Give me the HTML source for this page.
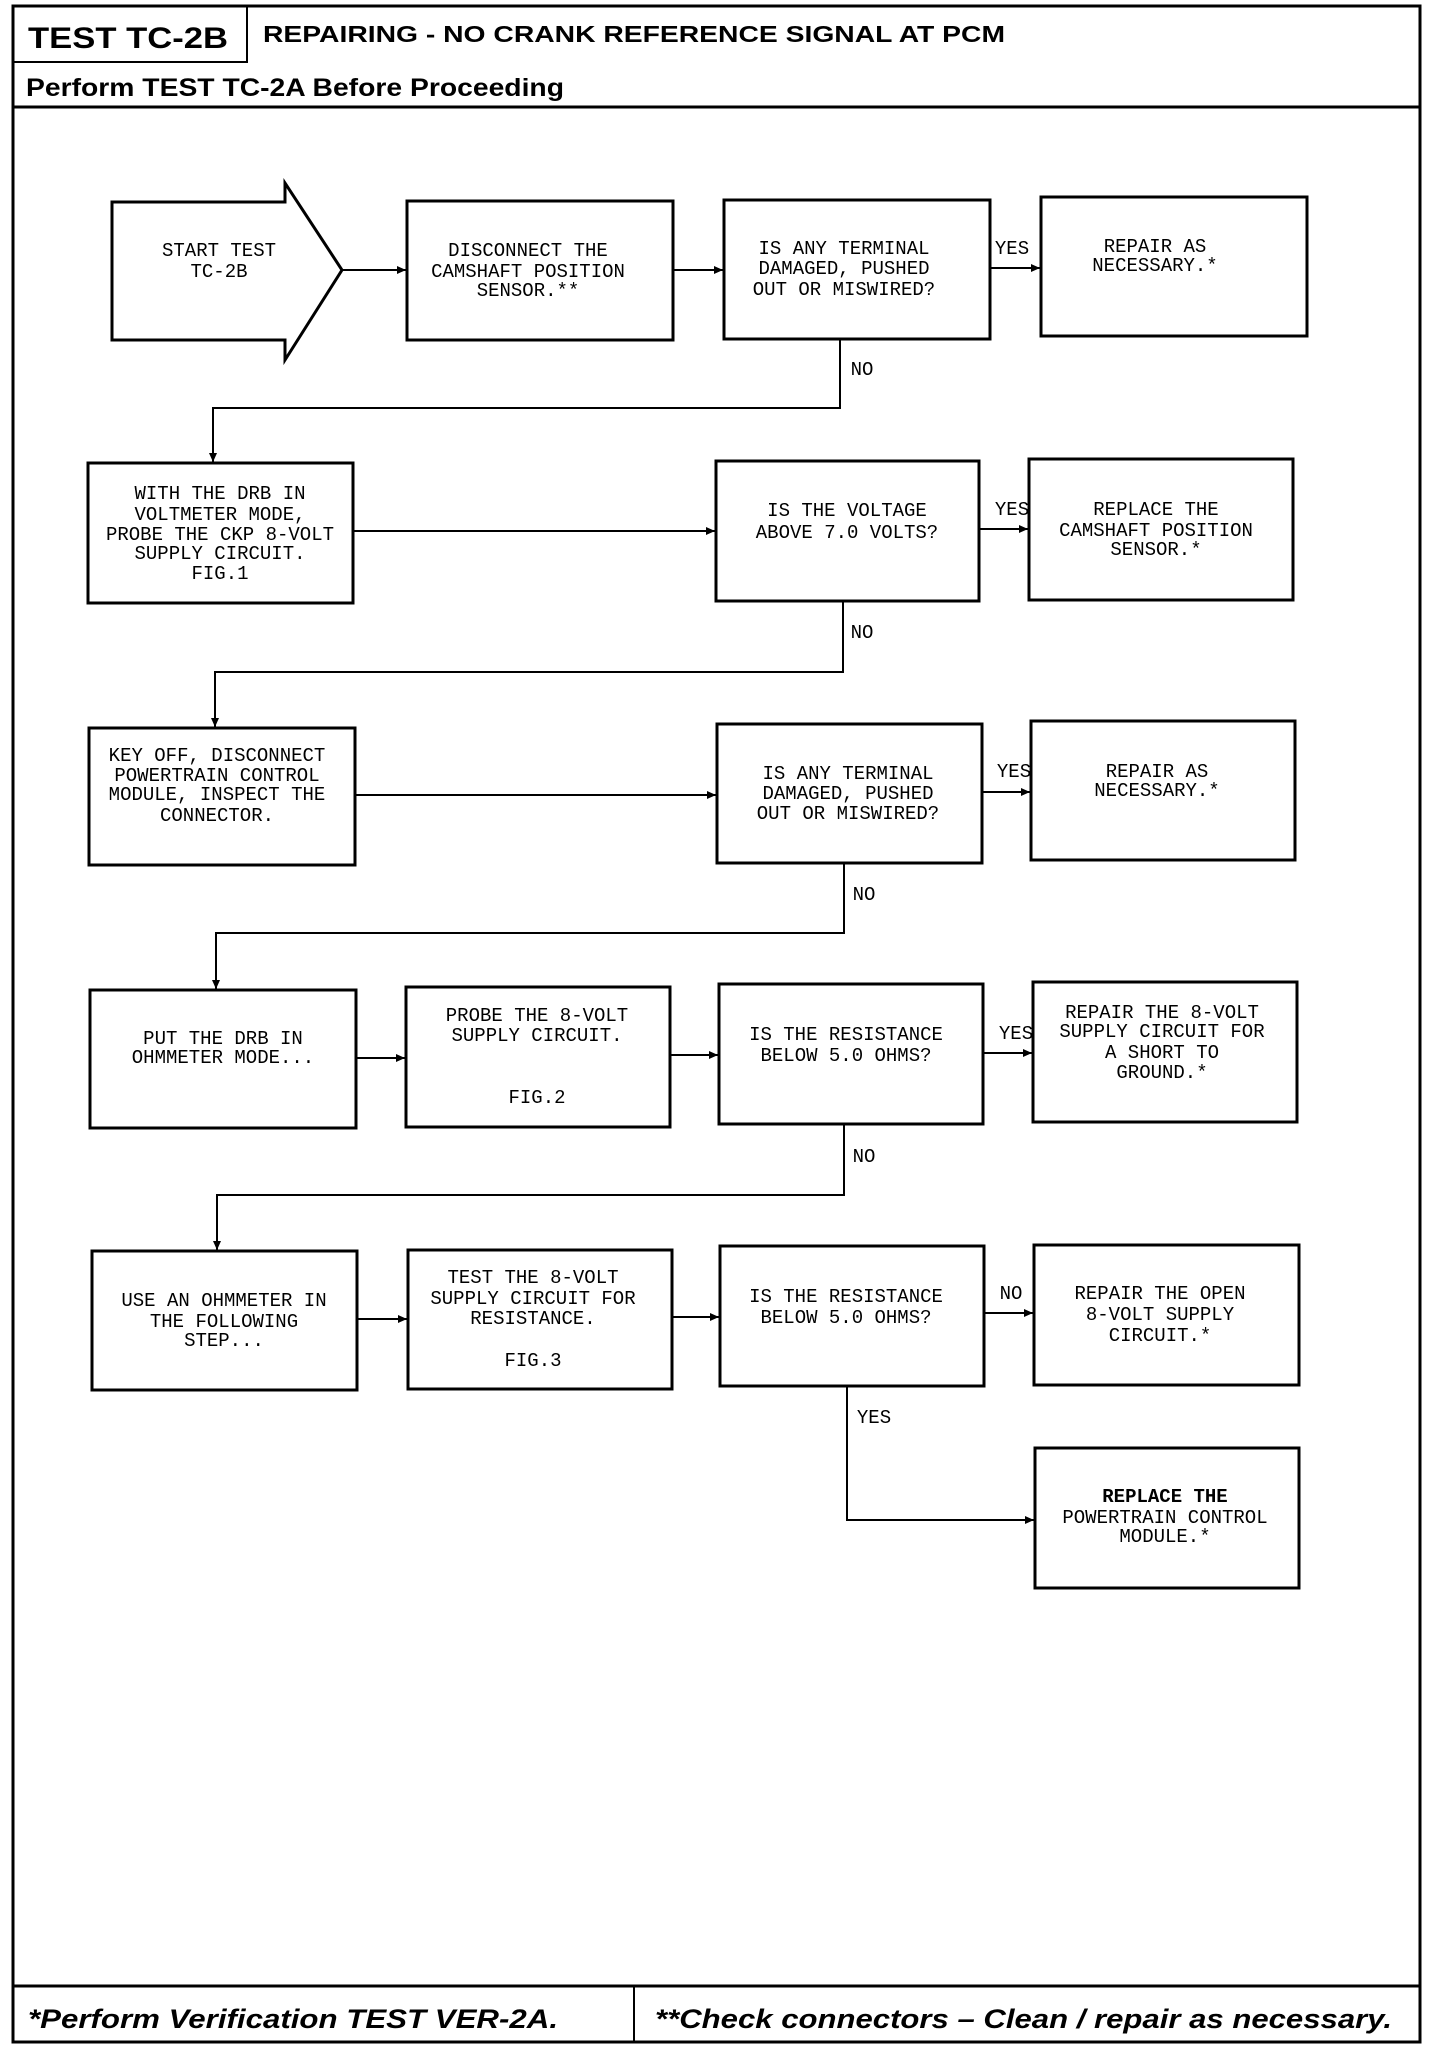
<!DOCTYPE html>
<html><head><meta charset="utf-8"><style>
html,body{margin:0;padding:0;background:#fff;}
svg{display:block;}
.b{fill:none;stroke:#000;stroke-width:3;}
.l{fill:none;stroke:#000;stroke-width:2;}
.t{font-family:"Liberation Mono",monospace;font-size:19px;fill:#000;text-anchor:middle;}
.h{font-family:"Liberation Sans",sans-serif;font-weight:bold;fill:#000;}
</style></head><body>
<svg width="1440" height="2046" viewBox="0 0 1440 2046" xmlns="http://www.w3.org/2000/svg">
<defs><marker id="a" markerWidth="10" markerHeight="10" refX="9" refY="5" orient="auto" markerUnits="userSpaceOnUse"><path d="M0,1 L9,5 L0,9 Z" fill="#000"/></marker></defs>
<!-- frame -->
<rect x="13" y="6" width="1407" height="2036" class="b"/>
<line x1="13" y1="107" x2="1420" y2="107" class="b"/>
<rect x="13" y="6" width="234" height="56" class="l"/>
<text x="28" y="48" class="h" font-size="30" textLength="200" lengthAdjust="spacingAndGlyphs">TEST TC-2B</text>
<text x="263" y="42" class="h" font-size="23" textLength="742" lengthAdjust="spacingAndGlyphs">REPAIRING - NO CRANK REFERENCE SIGNAL AT PCM</text>
<text x="26" y="96" class="h" font-size="25" textLength="538" lengthAdjust="spacingAndGlyphs">Perform TEST TC-2A Before Proceeding</text>
<line x1="13" y1="1986" x2="1420" y2="1986" class="b"/>
<line x1="634" y1="1986" x2="634" y2="2042" class="l"/>
<text x="28" y="2028" class="h" font-size="27" font-style="italic" textLength="530" lengthAdjust="spacingAndGlyphs">*Perform Verification TEST VER-2A.</text>
<text x="655" y="2028" class="h" font-size="27" font-style="italic" textLength="737" lengthAdjust="spacingAndGlyphs">**Check connectors – Clean / repair as necessary.</text>

<!-- Row 1 -->
<path d="M112,202 L285,202 L285,183 L342,270 L285,360 L285,340 L112,340 Z" class="b"/>
<rect x="407" y="201" width="266" height="139" class="b"/>
<rect x="724" y="200" width="266" height="139" class="b"/>
<rect x="1041" y="197" width="266" height="139" class="b"/>
<line x1="342" y1="270" x2="406" y2="270" class="l" stroke-width="3" marker-end="url(#a)"/>
<line x1="673" y1="270" x2="723" y2="270" class="l" marker-end="url(#a)"/>
<line x1="990" y1="268" x2="1040" y2="268" class="l" stroke-width="3" marker-end="url(#a)"/>
<text x="1012" y="254" class="t">YES</text>
<text x="219" y="256" class="t">START TEST</text><text x="219" y="277" class="t">TC-2B</text>
<text x="528" y="256" class="t">DISCONNECT THE</text><text x="528" y="277" class="t">CAMSHAFT POSITION</text><text x="528" y="296" class="t">SENSOR.**</text>
<text x="844" y="254" class="t">IS ANY TERMINAL</text><text x="844" y="274" class="t">DAMAGED, PUSHED</text><text x="844" y="295" class="t">OUT OR MISWIRED?</text>
<text x="1155" y="252" class="t">REPAIR AS</text><text x="1155" y="271" class="t">NECESSARY.*</text>
<polyline points="840,339 840,408 213,408 213,462" class="l" marker-end="url(#a)"/>
<text x="862" y="375" class="t">NO</text>

<!-- Row 2 -->
<rect x="88" y="463" width="265" height="140" class="b"/>
<rect x="716" y="461" width="263" height="140" class="b"/>
<rect x="1029" y="459" width="264" height="141" class="b"/>
<line x1="353" y1="531" x2="715" y2="531" class="l" marker-end="url(#a)"/>
<line x1="979" y1="529" x2="1028" y2="529" class="l" stroke-width="3" marker-end="url(#a)"/>
<text x="1012" y="515" class="t">YES</text>
<text x="220" y="499" class="t">WITH THE DRB IN</text><text x="220" y="520" class="t">VOLTMETER MODE,</text><text x="220" y="540" class="t">PROBE THE CKP 8-VOLT</text><text x="220" y="559" class="t">SUPPLY CIRCUIT.</text><text x="220" y="579" class="t" font-size="17">FIG.1</text>
<text x="847" y="516" class="t">IS THE VOLTAGE</text><text x="847" y="538" class="t">ABOVE 7.0 VOLTS?</text>
<text x="1156" y="515" class="t">REPLACE THE</text><text x="1156" y="536" class="t">CAMSHAFT POSITION</text><text x="1156" y="555" class="t">SENSOR.*</text>
<polyline points="843,601 843,672 215,672 215,727" class="l" marker-end="url(#a)"/>
<text x="862" y="638" class="t">NO</text>

<!-- Row 3 -->
<rect x="89" y="728" width="266" height="137" class="b"/>
<rect x="717" y="724" width="265" height="139" class="b"/>
<rect x="1031" y="721" width="264" height="139" class="b"/>
<line x1="355" y1="795" x2="716" y2="795" class="l" marker-end="url(#a)"/>
<line x1="982" y1="792" x2="1030" y2="792" class="l" stroke-width="3" marker-end="url(#a)"/>
<text x="1014" y="777" class="t">YES</text>
<text x="217" y="761" class="t">KEY OFF, DISCONNECT</text><text x="217" y="781" class="t">POWERTRAIN CONTROL</text><text x="217" y="800" class="t">MODULE, INSPECT THE</text><text x="217" y="821" class="t">CONNECTOR.</text>
<text x="848" y="779" class="t">IS ANY TERMINAL</text><text x="848" y="799" class="t">DAMAGED, PUSHED</text><text x="848" y="819" class="t">OUT OR MISWIRED?</text>
<text x="1157" y="777" class="t">REPAIR AS</text><text x="1157" y="796" class="t">NECESSARY.*</text>
<polyline points="844,863 844,933 216,933 216,989" class="l" marker-end="url(#a)"/>
<text x="864" y="900" class="t">NO</text>

<!-- Row 4 -->
<rect x="90" y="990" width="266" height="138" class="b"/>
<rect x="406" y="987" width="264" height="140" class="b"/>
<rect x="719" y="984" width="264" height="140" class="b"/>
<rect x="1033" y="982" width="264" height="140" class="b"/>
<line x1="356" y1="1058" x2="405" y2="1058" class="l" marker-end="url(#a)"/>
<line x1="670" y1="1055" x2="718" y2="1055" class="l" marker-end="url(#a)"/>
<line x1="983" y1="1053" x2="1032" y2="1053" class="l" stroke-width="3" marker-end="url(#a)"/>
<text x="1016" y="1039" class="t">YES</text>
<text x="223" y="1044" class="t">PUT THE DRB IN</text><text x="223" y="1063" class="t">OHMMETER MODE...</text>
<text x="537" y="1021" class="t">PROBE THE 8-VOLT</text><text x="537" y="1041" class="t">SUPPLY CIRCUIT.</text><text x="537" y="1103" class="t" font-size="18">FIG.2</text>
<text x="846" y="1040" class="t">IS THE RESISTANCE</text><text x="846" y="1061" class="t">BELOW 5.0 OHMS?</text>
<text x="1162" y="1018" class="t">REPAIR THE 8-VOLT</text><text x="1162" y="1037" class="t">SUPPLY CIRCUIT FOR</text><text x="1162" y="1058" class="t">A SHORT TO</text><text x="1162" y="1078" class="t">GROUND.*</text>
<polyline points="844,1124 844,1195 217,1195 217,1250" class="l" marker-end="url(#a)"/>
<text x="864" y="1162" class="t">NO</text>

<!-- Row 5 -->
<rect x="92" y="1251" width="265" height="139" class="b"/>
<rect x="408" y="1250" width="264" height="139" class="b"/>
<rect x="720" y="1246" width="264" height="140" class="b"/>
<rect x="1034" y="1245" width="265" height="140" class="b"/>
<rect x="1035" y="1448" width="264" height="140" class="b"/>
<line x1="357" y1="1319" x2="407" y2="1319" class="l" marker-end="url(#a)"/>
<line x1="672" y1="1317" x2="719" y2="1317" class="l" marker-end="url(#a)"/>
<line x1="984" y1="1313" x2="1033" y2="1313" class="l" stroke-width="3" marker-end="url(#a)"/>
<text x="1011" y="1299" class="t">NO</text>
<polyline points="847,1386 847,1520 1034,1520" class="l" stroke-width="3" marker-end="url(#a)"/>
<text x="874" y="1423" class="t">YES</text>
<text x="224" y="1306" class="t">USE AN OHMMETER IN</text><text x="224" y="1327" class="t">THE FOLLOWING</text><text x="224" y="1346" class="t">STEP...</text>
<text x="533" y="1283" class="t">TEST THE 8-VOLT</text><text x="533" y="1304" class="t">SUPPLY CIRCUIT FOR</text><text x="533" y="1324" class="t">RESISTANCE.</text><text x="533" y="1366" class="t" font-size="18">FIG.3</text>
<text x="846" y="1302" class="t">IS THE RESISTANCE</text><text x="846" y="1323" class="t">BELOW 5.0 OHMS?</text>
<text x="1160" y="1299" class="t">REPAIR THE OPEN</text><text x="1160" y="1320" class="t">8-VOLT SUPPLY</text><text x="1160" y="1341" class="t">CIRCUIT.*</text>
<text x="1165" y="1502" class="t" font-weight="bold">REPLACE THE</text><text x="1165" y="1523" class="t">POWERTRAIN CONTROL</text><text x="1165" y="1542" class="t">MODULE.*</text>
</svg>
</body></html>
